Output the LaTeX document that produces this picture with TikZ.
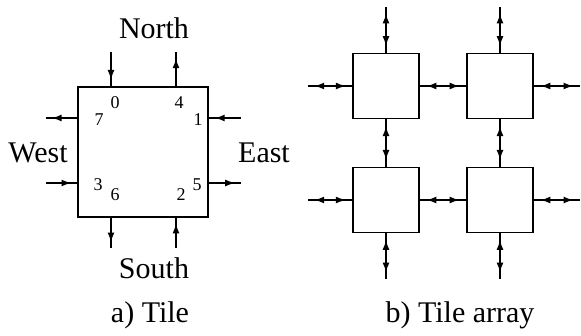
\documentclass[tikz,border=0pt]{standalone}
\usepackage{fontspec}
\setmainfont{Liberation Serif}
\usetikzlibrary{arrows.meta,decorations.markings}
\begin{document}
\begin{tikzpicture}[x=1pt,y=-1pt,
  tilebox/.style={draw,line width=1.8pt,minimum width=130pt,minimum height=130pt,inner sep=0pt,fill=white},
  cellbox/.style={draw,line width=1.8pt,minimum width=66pt,minimum height=65pt,inner sep=0pt,fill=white},
  lbl/.style={font=\fontsize{30}{32}\selectfont,inner sep=0pt},
  num/.style={font=\fontsize{18}{19}\selectfont,inner sep=0pt},
  onearrow/.style={line width=1.8pt,postaction={decorate},
    decoration={markings,mark=at position 0.82 with {\arrow{Latex[length=10pt,width=7pt]}}}},
  bidir/.style={line width=1.8pt,postaction={decorate},
    decoration={markings,
      mark=at position 0.14 with {\arrowreversed{Latex[length=10pt,width=7pt]}},
      mark=at position 0.86 with {\arrow{Latex[length=10pt,width=7pt]}}}}
]
\useasboundingbox (0,0) rectangle (581,335);
% ---------- a) Tile ----------
\node[tilebox] (tile) at (143,152) {};
\node[lbl] (north) at (154,28) {North};
\node[lbl] (south) at (154,268) {South};
\node[lbl] (west) at (38,153) {West};
\node[lbl] (east) at (264,153) {East};
\node[lbl] (capa) at (150,315) {a) Tile};
\node[num] (d0) at (115,103) {0};
\node[num] (d4) at (179,103) {4};
\node[num] (d7) at (99,120) {7};
\node[num] (d1) at (198,120) {1};
\node[num] (d3) at (98,185) {3};
\node[num] (d6) at (115,195) {6};
\node[num] (d2) at (181,195) {2};
\node[num] (d5) at (197,185) {5};
\coordinate (nin) at (111,52);
\coordinate (nout) at (176,52);
\coordinate (sout) at (111,248);
\coordinate (sin) at (176,248);
\coordinate (wout) at (46,118);
\coordinate (win) at (46,183);
\coordinate (ein) at (241,118);
\coordinate (eout) at (241,183);
\draw[onearrow] (nin) -- (nin |- tile.north);
\draw[onearrow] (nout |- tile.north) -- (nout);
\draw[onearrow] (sout |- tile.south) -- (sout);
\draw[onearrow] (sin) -- (sin |- tile.south);
\draw[onearrow] (wout -| tile.west) -- (wout);
\draw[onearrow] (win) -- (win -| tile.west);
\draw[onearrow] (ein) -- (ein -| tile.east);
\draw[onearrow] (eout -| tile.east) -- (eout);
% ---------- b) Tile array ----------
\node[cellbox] (t11) at (386,86) {};
\node[cellbox] (t12) at (500,86) {};
\node[cellbox] (t21) at (386,200) {};
\node[cellbox] (t22) at (500,200) {};
\node[lbl] (capb) at (460,315) {b) Tile array};
\coordinate (top1) at (386,7);
\coordinate (top2) at (500,7);
\coordinate (bot1) at (386,279);
\coordinate (bot2) at (500,279);
\coordinate (lft1) at (308,86);
\coordinate (lft2) at (308,200);
\coordinate (rgt1) at (580,86);
\coordinate (rgt2) at (580,200);
\draw[bidir] (t11.north) -- (top1);
\draw[bidir] (t12.north) -- (top2);
\draw[bidir] (t11.south) -- (t21.north);
\draw[bidir] (t12.south) -- (t22.north);
\draw[bidir] (t21.south) -- (bot1);
\draw[bidir] (t22.south) -- (bot2);
\draw[bidir] (lft1) -- (t11.west);
\draw[bidir] (lft2) -- (t21.west);
\draw[bidir] (t11.east) -- (t12.west);
\draw[bidir] (t21.east) -- (t22.west);
\draw[bidir] (t12.east) -- (rgt1);
\draw[bidir] (t22.east) -- (rgt2);
\end{tikzpicture}
\end{document}
